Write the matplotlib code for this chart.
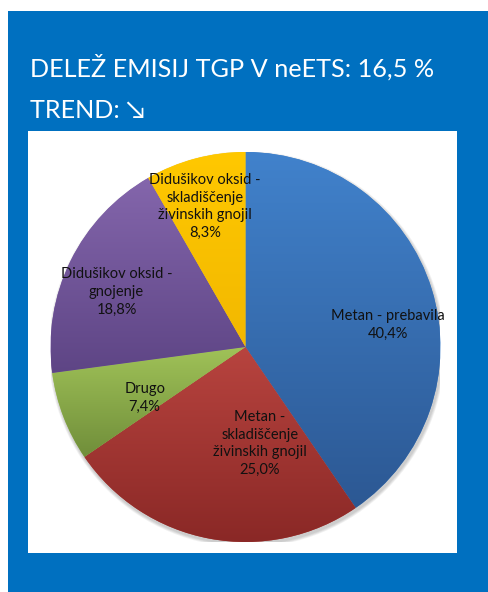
import numpy as np
import matplotlib
matplotlib.use("Agg")
import matplotlib.pyplot as plt
from matplotlib.patches import Rectangle, Circle
from matplotlib.colors import to_rgb

plt.rcParams['font.family'] = ['Lato', 'DejaVu Sans']

# ---- data ----
categories = ["Metan - prebavila",
              "Metan -\nskladiščenje\nživinskih gnojil",
              "Drugo",
              "Didušikov oksid -\ngnojenje",
              "Didušikov oksid -\nskladiščenje\nživinskih gnojil"]
values = [40.4, 25.0, 7.4, 18.8, 8.3]
value_labels = ["40,4%", "25,0%", "7,4%", "18,8%", "8,3%"]
title_line1 = "DELEŽ EMISIJ TGP V neETS: 16,5 %"
title_line2 = "TREND: ↘"

# ---- style ----
top_colors = ["#4182CC", "#B8443F", "#A0C258", "#8466AC", "#FFC800"]
bottom_colors = ["#2C5893", "#8A2826", "#708E3A", "#5E4585", "#F2B800"]
# label placement (angle in degrees, fraction of radius)
label_pos = [(8.8, 0.74), (-81.5, 0.50), (-153.1, 0.58), (156.8, 0.72), (106.1, 0.75)]

W, H = 489, 592
fig = plt.figure(figsize=(W / 100, H / 100), dpi=100)
fig.patch.set_facecolor("white")

def px_rect(x0, y0, x1, y1, color, z):
    fig.patches.append(Rectangle((x0 / W, 1 - y1 / H), (x1 - x0) / W, (y1 - y0) / H,
                                 transform=fig.transFigure, facecolor=color,
                                 edgecolor="none", zorder=z))

px_rect(8, 11, 489, 592, "#0070C0", 0)
px_rect(28, 131, 457, 553, "white", 1)

fig.text(30 / W, 1 - 77 / H, title_line1, color="white", fontsize=18.2,
         ha="left", va="baseline", zorder=3)
fig.text(30 / W, 1 - 118 / H, title_line2, color="white", fontsize=18.2,
         ha="left", va="baseline", zorder=3)

cx, cy, R = 245.5, 347, 195
ax = fig.add_axes([(cx - R) / W, 1 - (cy + R) / H, 2 * R / W, 2 * R / H])
ax.set_zorder(5)
ax.set_xlim(-1, 1)
ax.set_ylim(-1, 1)
ax.axis("off")
ax.patch.set_alpha(0)

# soft shadow
for i in range(4):
    ax.add_patch(Circle((0.006, -0.012), 1.0 + 0.004 * (4 - i), facecolor="black",
                        edgecolor="none", alpha=0.05, zorder=0))

wedges, _ = ax.pie(values, startangle=90, counterclock=False, radius=1.0,
                   colors=top_colors, wedgeprops=dict(linewidth=0))
ax.set_xlim(-1, 1)
ax.set_ylim(-1, 1)

for w, ct, cb in zip(wedges, top_colors, bottom_colors):
    ext = w.get_path().get_extents()
    y0, y1 = ext.y0, ext.y1
    t = np.linspace(0, 1, 256)[:, None]
    img = (1 - t) * np.array(to_rgb(ct)) + t * np.array(to_rgb(cb))
    img = img[:, None, :]
    im = ax.imshow(img, extent=(-1, 1, y0, y1), origin="upper", aspect="auto",
                   zorder=2, interpolation="bilinear")
    im.set_clip_path(w)

ax.set_xlim(-1, 1)
ax.set_ylim(-1, 1)

for cat, vl, (ang, d) in zip(categories, value_labels, label_pos):
    x = d * np.cos(np.radians(ang))
    y = d * np.sin(np.radians(ang))
    ax.text(x, y, cat + "\n" + vl, ha="center", va="center", fontsize=10.5,
            color="#111111", linespacing=1.35, zorder=5)

fig.savefig("out.png", dpi=100)
